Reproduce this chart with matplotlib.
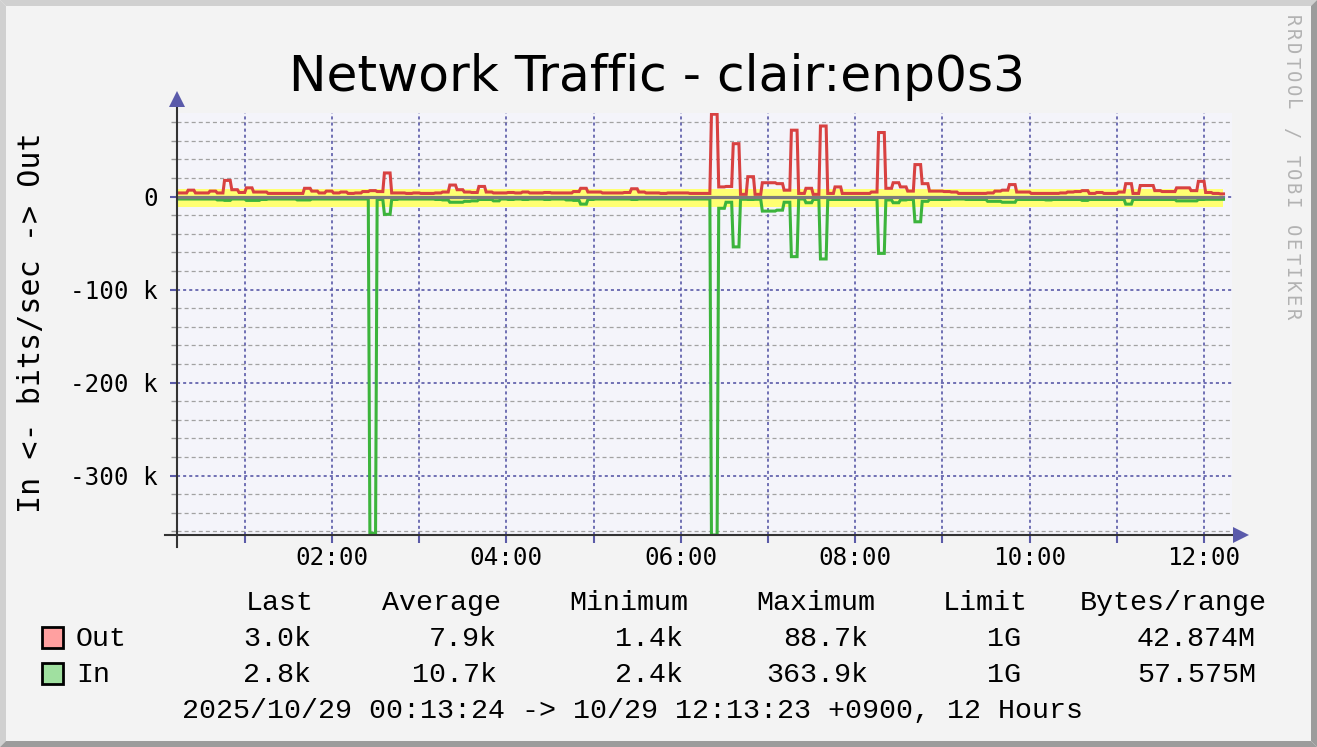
"""
RRDtool style network traffic graph (In mirrored below zero, Out above).
"""
import numpy as np
import matplotlib
matplotlib.use("Agg")
import matplotlib.pyplot as plt
from matplotlib.patches import Polygon, Rectangle

plt.rcParams["lines.scale_dashes"] = False

# ---- data: 5 minute rrd buckets, kbit/s, first bucket ends 00:15 ----
start_h = 13 / 60 + 24 / 3600          # 00:13:24
end_h = 12 + 13 / 60 + 23 / 3600       # 12:13:23
first_bucket_end_h = 0.25
step_h = 5 / 60

out_kbps = [
    4.0, 4.0, 7.0, 4.0, 4.0, 6.0, 4.0, 17.5, 7.5, 4.5,
    9.5, 5.0, 5.0, 3.5, 3.5, 3.5, 3.5, 3.5, 9.0, 6.0,
    4.0, 6.0, 4.0, 5.0, 3.5, 4.0, 5.5, 6.5, 5.5, 25.5,
    4.0, 4.0, 3.5, 4.0, 3.5, 3.5, 4.0, 5.0, 12.5, 7.5,
    5.0, 4.5, 11.0, 5.0, 4.0, 4.0, 4.5, 4.0, 5.0, 4.0,
    4.0, 4.5, 4.0, 4.0, 4.0, 5.5, 9.0, 5.0, 5.0, 4.0,
    4.0, 4.0, 4.5, 8.5, 5.0, 4.0, 4.0, 3.5, 4.0, 4.0,
    4.0, 3.5, 3.5, 3.5, 88.7, 10.5, 11.0, 57.0, 2.5, 21.5,
    2.5, 15.0, 15.0, 14.0, 7.0, 71.5, 3.5, 9.0, 2.5, 76.0,
    3.5, 10.5, 3.5, 3.5, 3.5, 3.5, 5.0, 69.0, 9.0, 15.0,
    10.5, 6.0, 34.5, 14.0, 6.0, 6.0, 5.5, 5.0, 3.5, 3.5,
    3.5, 3.5, 4.0, 6.0, 7.0, 13.0, 5.0, 5.0, 3.5, 3.5,
    3.5, 3.5, 4.0, 5.0, 5.5, 6.5, 3.5, 4.5, 3.5, 3.5,
    5.0, 14.0, 3.5, 12.0, 12.0, 6.5, 5.5, 5.5, 9.5, 9.5,
    6.5, 16.5, 4.5, 3.5, 3.0,
]
in_kbps = [
    2.5, 2.5, 2.5, 2.5, 2.5, 2.5, 3.5, 4.0, 2.5, 2.5,
    4.0, 4.0, 3.0, 2.5, 2.5, 2.5, 2.5, 3.5, 3.5, 2.5,
    2.5, 2.5, 2.5, 2.5, 2.5, 2.5, 2.5, 362.0, 3.0, 19.0,
    3.0, 2.5, 2.5, 2.5, 2.5, 2.5, 3.0, 3.5, 6.0, 6.0,
    5.0, 4.5, 3.0, 3.0, 4.5, 2.5, 3.0, 2.5, 3.0, 2.5,
    2.5, 3.0, 2.5, 2.5, 3.5, 4.0, 8.0, 3.0, 2.5, 2.5,
    2.5, 2.5, 2.5, 3.0, 2.5, 2.5, 2.5, 2.5, 2.5, 2.5,
    2.5, 2.5, 2.5, 2.5, 363.9, 12.5, 6.0, 54.0, 2.8, 3.0,
    2.8, 15.5, 15.5, 14.5, 6.0, 64.5, 2.5, 6.5, 3.0, 67.0,
    3.0, 3.0, 3.0, 3.0, 3.0, 3.0, 3.0, 61.0, 3.5, 6.5,
    3.5, 3.0, 27.0, 5.0, 3.0, 3.0, 3.0, 2.5, 2.5, 3.0,
    3.0, 3.0, 5.0, 5.0, 6.0, 6.0, 3.0, 3.0, 3.0, 3.0,
    3.5, 3.0, 3.0, 3.0, 3.0, 4.0, 3.0, 3.0, 3.0, 3.0,
    3.0, 8.0, 3.0, 3.0, 3.0, 3.0, 3.0, 3.0, 4.5, 4.5,
    4.5, 3.0, 2.8, 2.8, 2.8,
]

avg_out_k = 7.9
avg_in_k = 10.7

x_tick_hours = list(range(1, 13))
x_tick_labels = ["" if h % 2 else f"{h:02d}:00" for h in x_tick_hours]
y_major = [0, -100, -200, -300]
y_major_labels = ["0", "-100 k", "-200 k", "-300 k"]
y_minor = list(range(-360, 90, 20))

legend_cols = ["Last", "Average", "Minimum", "Maximum", "Limit", "Bytes/range"]
out_stats = ["3.0k", "7.9k", "1.4k", "88.7k", "1G", "42.874M"]
in_stats = ["2.8k", "10.7k", "2.4k", "363.9k", "1G", "57.575M"]
range_text = "2025/10/29 00:13:24 -> 10/29 12:13:23 +0900, 12 Hours"

# ---- colours ----
BG = "#f3f3f3"
PLOT_BG = "#f4f4fa"
GRID_BLUE = "#5a5aa8"
GRID_GRAY = "#a2a2a2"
RED = "#d84141"
GREEN = "#3cb43c"
YELLOW = "#ffff72"

W, H = 1317, 747
fig = plt.figure(figsize=(W / 100, H / 100), dpi=100, facecolor=BG)

# full-figure overlay in pixel units for frame + text block
bg = fig.add_axes([0, 0, 1, 1], zorder=0)
bg.set_xlim(0, W)
bg.set_ylim(H, 0)
bg.axis("off")
light, dark = "#d0d0d0", "#9c9c9c"
bw = 6
bg.add_patch(Polygon([(0, 0), (W, 0), (W - bw, bw), (bw, bw)], color=light, lw=0))
bg.add_patch(Polygon([(0, 0), (0, H), (bw, H - bw), (bw, bw)], color=light, lw=0))
bg.add_patch(Polygon([(W, 0), (W, H), (W - bw, H - bw), (W - bw, bw)], color=dark, lw=0))
bg.add_patch(Polygon([(0, H), (W, H), (W - bw, H - bw), (bw, H - bw)], color=dark, lw=0))

bg.text(657, 77, "Network Traffic - clair:enp0s3", fontsize=36.2, family="DejaVu Sans",
        ha="center", va="center")
bg.text(32, 323, "In <- bits/sec -> Out", fontsize=21.6, family="DejaVu Sans Mono",
        rotation=90, ha="center", va="center")

wm = "RRDTOOL / TOBI OETIKER"
for i, ch in enumerate(wm):
    bg.text(1291, 21 + 14 * i, ch, fontsize=13.5, family="DejaVu Sans Mono", color="#b2b2b2",
            rotation=-90, ha="center", va="center")

# legend / stats block
mono = dict(family="Liberation Mono", fontsize=20.4, color="black")
head_x = [246, 382, 569, 756, 943, 1080]
val_right = [311, 497, 683, 868, 1021, 1256]
for x, s in zip(head_x, legend_cols):
    bg.text(x, 610, s, ha="left", va="baseline", **mono)
for row_y, name, stats, face in [(646, "Out", out_stats, "#ffa0a0"), (682, "In", in_stats, "#a0e0a0")]:
    bg.add_patch(Rectangle((42, row_y - 19), 21, 21, facecolor=face, edgecolor="black", lw=2))
    bg.text(76, row_y, name, ha="left", va="baseline", **mono)
    for x, s in zip(val_right, stats):
        bg.text(x, row_y, s, ha="right", va="baseline", **mono)
bg.text(182, 718, range_text, ha="left", va="baseline", **mono)

# ---- graph area ----
px_per_h = 87.21
left_px, right_px, top_px, bot_px = 177, 1232, 113, 535
ax = fig.add_axes([left_px / W, (H - bot_px) / H, (right_px - left_px) / W, (bot_px - top_px) / H],
                  zorder=2, facecolor=PLOT_BG)
x0 = start_h
x1 = start_h + (right_px - left_px) / px_per_h
ax.set_xlim(x0, x1)
ax.set_ylim(-363.9, 90)
for s in ax.spines.values():
    s.set_visible(False)

# grid
ax.hlines([v for v in y_minor if v % 100], x0, x1, colors=GRID_GRAY, lw=0.9,
          linestyles=[(0, (2.9, 2.2))], zorder=1)
ax.hlines(y_major, x0, x1, colors=GRID_BLUE, lw=1.2, linestyles=[(0, (2.2, 2.2))], zorder=1)
ax.vlines(x_tick_hours, -363.9, 90, colors=GRID_BLUE, lw=1.2, linestyles=[(0, (2.2, 2.2))], zorder=1)

# average band
ax.fill_between([start_h, end_h], [-avg_in_k] * 2, [avg_out_k] * 2, color=YELLOW, lw=0, zorder=2)


def step_path(vals, sign):
    n = len(vals)
    t_end = first_bucket_end_h + step_h * np.arange(n)
    t_beg = t_end - step_h
    edge = 1.6 / px_per_h
    xs = np.column_stack([t_beg + edge, t_end]).ravel()
    ys = np.repeat(sign * np.asarray(vals, dtype=float), 2)
    return np.clip(xs, start_h, end_h), ys


xo, yo = step_path(out_kbps, 1)
xi, yi = step_path(in_kbps, -1)
ax.plot(xo, yo, color=RED, lw=2.2, solid_joinstyle="miter", zorder=3)
ax.plot(xi, yi, color=GREEN, lw=2.2, solid_joinstyle="miter", zorder=3)
ax.hlines(0, start_h, end_h, colors="#7c7c7c", lw=2.3, zorder=4)

# axes lines with arrows
ax.plot([-12 / 1055, 1 + 3 / 1055], [0, 0], transform=ax.transAxes, color="#333333",
        lw=1.5, clip_on=False, zorder=5)
ax.plot([0, 0], [-12 / 422, 1 + 6 / 422], transform=ax.transAxes, color="#333333",
        lw=1.5, clip_on=False, zorder=5)
ax.plot([1 + 9 / 1055], [0], marker=">", ms=12, color="#5a5aaa", transform=ax.transAxes,
        clip_on=False, zorder=6, mew=0)
ax.plot([0], [1 + 14 / 422], marker="^", ms=12, color="#5a5aaa", transform=ax.transAxes,
        clip_on=False, zorder=6, mew=0)

# ticks
ax.set_xticks(x_tick_hours)
ax.set_xticklabels(x_tick_labels, family="DejaVu Sans Mono", fontsize=17.5)
ax.tick_params(axis="x", direction="out", length=6, width=1.5, color=GRID_BLUE, pad=2)
ax.set_yticks(y_major)
ax.set_yticklabels(y_major_labels, family="DejaVu Sans Mono", fontsize=17.5)
ax.set_yticks([v for v in y_minor if v % 100], minor=True)
ax.tick_params(axis="y", which="major", direction="out", length=5, width=1.5, color=GRID_BLUE, pad=9)
ax.tick_params(axis="y", which="minor", direction="out", length=4, width=1.0, color="#999999")

fig.savefig("out.png", dpi=100, facecolor=BG)
